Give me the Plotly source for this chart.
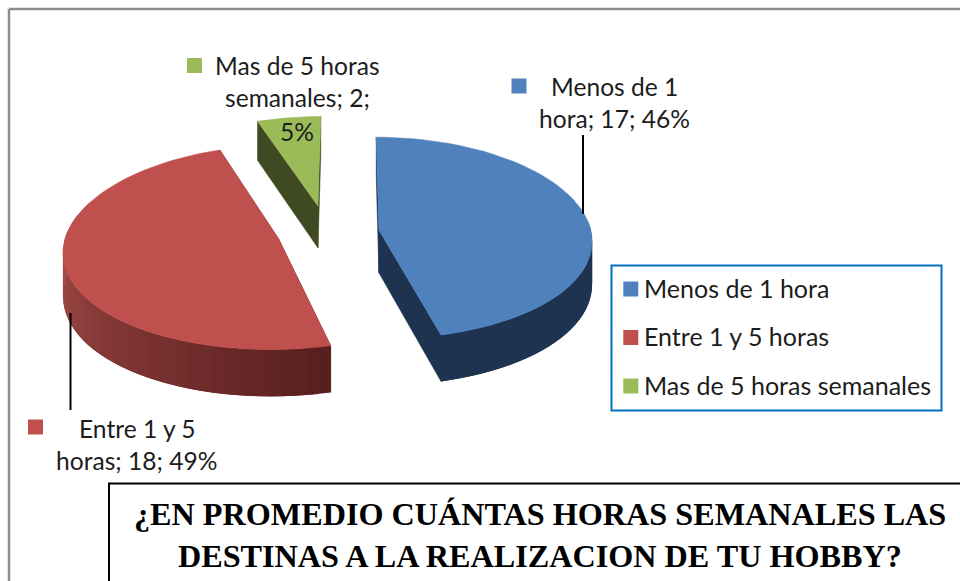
"""Exploded 3D-look pie: hours per week spent on a hobby."""

import numpy as np
import plotly.graph_objects as go

CATEGORIES = ["Menos de 1 hora", "Entre 1 y 5 horas", "Mas de 5 horas semanales"]
VALUES = [17, 18, 2]
TITLE_LINES = [
    "¿EN PROMEDIO CUÁNTAS HORAS SEMANALES LAS",
    "DESTINAS A LA REALIZACION DE TU HOBBY?",
]

TOP_COLORS = ["#4f81bd", "#c0504d", "#9bbb59"]
WALL_DARK = [(29, 51, 80), (88, 31, 31), (64, 74, 34)]
WALL_LIGHT = [(32, 56, 88), (166, 76, 73), (64, 74, 34)]
TEXT_COLOR = "#1c1c1c"
LABEL_FONT = "Lato, 'Open Sans', sans-serif"

# fake perspective, all in pixels of the 960x581 page
RADIUS = 213
DEPTH = 43
VANISH_X = 350
BASE_Y = 235
SQUASH = 101
PERSP_X = 0.10
PERSP_Y = 0.08
# explosion of each slice: sideways px, depth in radius units
OFFSETS = [(29, 0.05), (-71, -0.04), (-33, 0.295)]
LEGEND_ROWS = [289, 337.5, 386]


def project(x, v, drop=0.0):
    x, v = np.asarray(x, dtype=float), np.asarray(v, dtype=float)
    sx = 1 / (1 + PERSP_X * v)
    sy = 1 / (1 + PERSP_Y * v)
    return VANISH_X + x * sx, BASE_Y - SQUASH * v * sy + DEPTH * sy * drop


def blend(a, b, t):
    return "rgb(%d,%d,%d)" % tuple(a[i] + (b[i] - a[i]) * t for i in range(3))


def add_poly(fig, xs, ys, color, width=0.5):
    fig.add_trace(
        go.Scatter(
            x=list(xs) + [xs[0]],
            y=list(ys) + [ys[0]],
            mode="lines",
            fill="toself",
            fillcolor=color,
            line=dict(color=color, width=width),
            hoverinfo="skip",
            showlegend=False,
        )
    )


fig = go.Figure()

fractions = np.array(VALUES) / sum(VALUES)
edges = np.concatenate([[0], np.cumsum(fractions) * 360])

for idx in range(len(VALUES)):
    start, end = edges[idx], edges[idx + 1]
    x0, v0 = OFFSETS[idx]
    angles = np.radians(np.linspace(start, end, 61))
    arc_x = x0 + RADIUS * np.sin(angles)
    arc_v = v0 + np.cos(angles)

    # the two cut faces
    for k in (0, -1):
        ex = [x0, arc_x[k], arc_x[k], x0]
        ev = [v0, arc_v[k], arc_v[k], v0]
        px, py = project(ex, ev, np.array([0, 0, 1, 1]))
        add_poly(fig, px, py, blend(WALL_DARK[idx], WALL_DARK[idx], 0))

    # outer wall, split up so it can carry a gradient; each strip overlaps the
    # next one so no seams show
    for j in range(len(angles) - 1):
        deg = np.degrees(angles[j])
        if not 85 <= deg <= 285:
            continue
        n = min(j + 2, len(angles) - 1)
        ex = [arc_x[j], arc_x[n], arc_x[n], arc_x[j]]
        ev = [arc_v[j], arc_v[n], arc_v[n], arc_v[j]]
        px, py = project(ex, ev, np.array([0, 0, 1, 1]))
        t = np.clip((deg - 165) / 105, 0, 1)
        add_poly(fig, px, py, blend(WALL_DARK[idx], WALL_LIGHT[idx], t), width=0)

    # top face
    px, py = project(np.r_[x0, arc_x], np.r_[v0, arc_v])
    add_poly(fig, px, py, TOP_COLORS[idx])

# little keys next to the data labels, then the legend keys
fig.add_trace(
    go.Scatter(
        x=[519, 35.5, 194.5],
        y=[86, 427, 65.5],
        mode="markers",
        marker=dict(symbol="square", size=15, color=TOP_COLORS),
        hoverinfo="skip",
        showlegend=False,
    )
)
fig.add_trace(
    go.Scatter(
        x=[630.8] * len(CATEGORIES),
        y=LEGEND_ROWS,
        mode="markers",
        marker=dict(symbol="square", size=15, color=TOP_COLORS),
        text=CATEGORIES,
        hoverinfo="text",
        showlegend=False,
    )
)

percents = [round(f * 100) for f in fractions]
label_lines = [
    ("Menos de 1", 614, 86),
    (f"hora; {VALUES[0]}; {percents[0]}%", 614, 118),
    ("Entre 1 y 5", 137, 428),
    (f"horas; {VALUES[1]}; {percents[1]}%", 137, 460),
    ("Mas de 5 horas", 297, 65),
    (f"semanales; {VALUES[2]};", 297, 97),
    (f"{percents[2]}%", 297, 131),
]

annotations = [
    dict(
        text=text,
        x=x,
        y=y,
        xref="x",
        yref="y",
        showarrow=False,
        font=dict(family=LABEL_FONT, size=24.6, color=TEXT_COLOR),
    )
    for text, x, y in label_lines
]
for name, y in zip(CATEGORIES, LEGEND_ROWS):
    annotations.append(
        dict(
            text=name,
            x=645,
            y=y,
            xref="x",
            yref="y",
            xanchor="left",
            xshift=-3,
            yshift=1.5,
            showarrow=False,
            font=dict(family=LABEL_FONT, size=25, color=TEXT_COLOR),
        )
    )
for text, y in zip(TITLE_LINES, [514, 556]):
    annotations.append(
        dict(
            text=f"<b>{text}</b>",
            x=540,
            y=y,
            xref="x",
            yref="y",
            showarrow=False,
            font=dict(family="'Liberation Serif', serif", size=32.2, color="#000000"),
        )
    )

shapes = [
    # outer frame
    dict(type="line", x0=9, y0=9, x1=960, y1=9, line=dict(color="#8c8c8c", width=2.5)),
    dict(type="line", x0=9, y0=9, x1=9, y1=581, line=dict(color="#8c8c8c", width=2.5)),
    # leader lines
    dict(type="line", x0=583, y0=135, x1=583, y1=214, line=dict(color="#000000", width=2)),
    dict(type="line", x0=70.5, y0=313, x1=70.5, y1=410, line=dict(color="#000000", width=2)),
    # legend box
    dict(type="rect", x0=611.5, y0=265.5, x1=941.5, y1=410.5, line=dict(color="#0070c0", width=2)),
    # title box
    dict(
        type="rect",
        x0=109,
        y0=483.5,
        x1=975,
        y1=600,
        line=dict(color="#000000", width=2),
        fillcolor="#ffffff",
    ),
]

fig.update_layout(
    width=960,
    height=581,
    margin=dict(l=0, r=0, t=0, b=0),
    paper_bgcolor="#ffffff",
    plot_bgcolor="#ffffff",
    showlegend=False,
    xaxis=dict(range=[0, 960], visible=False, fixedrange=True),
    yaxis=dict(range=[581, 0], visible=False, fixedrange=True),
    annotations=annotations,
    shapes=shapes,
)

fig.write_html(
    "out.html",
    config=dict(displayModeBar=False),
    post_script="document.body.style.margin='0';document.body.style.overflow='hidden';",
)
